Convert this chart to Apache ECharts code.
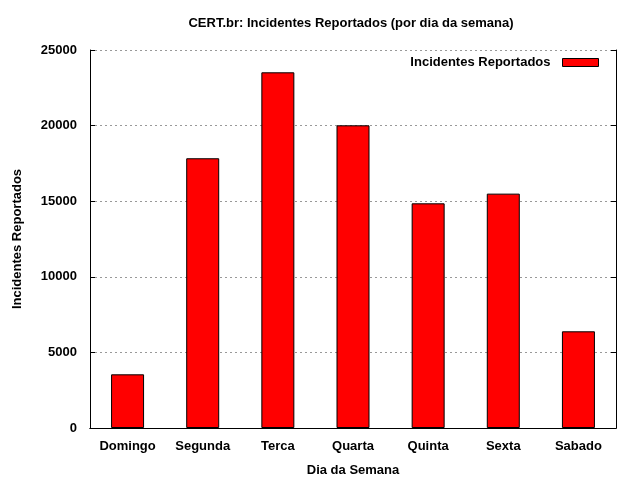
<!DOCTYPE html>
<html><head><meta charset="utf-8">
<script src="https://cdn.jsdelivr.net/npm/echarts@6/dist/echarts.min.js"></script>
<style>html,body{margin:0;padding:0;background:#fff}#c{width:640px;height:480px}</style>
</head><body><div id="c"></div>
<script>
var categories = ['Domingo','Segunda','Terca','Quarta','Quinta','Sexta','Sabado'];
var incidentes = [3550, 17840, 23525, 20020, 14860, 15500, 6395];
var yTicks = {min: 0, max: 25000, interval: 5000};
var seriesName = 'Incidentes Reportados';

var font = {fontFamily: '"Liberation Sans", Arial, sans-serif', fontWeight: 'bold', fontSize: 13, color: '#000'};
var chart = echarts.init(document.getElementById('c'), null, {renderer: 'canvas'});
chart.setOption({
  animation: false,
  backgroundColor: '#fff',
  title: {text: 'CERT.br: Incidentes Reportados (por dia da semana)', left: 351, textAlign: 'center', top: 17, padding: 0,
    textStyle: Object.assign({}, font)},
  legend: {data: [seriesName], right: 41, top: 56, padding: 0, align: 'right', itemWidth: 36, itemHeight: 8, itemGap: 10,
    icon: 'rect',
    textStyle: Object.assign({padding: [0, 7, 0, 0]}, font),
    itemStyle: {borderColor: '#000', borderWidth: 1}},
  grid: {left: 90, right: 24, top: 50, bottom: 52, containLabel: false, outerBoundsMode: 'none'},
  xAxis: [{
    type: 'category', data: categories, boundaryGap: true, position: 'bottom',
    name: 'Dia da Semana', nameLocation: 'middle', nameGap: 36, nameTextStyle: Object.assign({}, font),
    axisLine: {lineStyle: {color: '#000', width: 1}},
    axisTick: {inside: true, alignWithLabel: true, length: 5, lineStyle: {color: '#000'}},
    axisLabel: Object.assign({margin: 12}, font),
    splitLine: {show: false}
  }, {
    type: 'category', data: categories, boundaryGap: true, position: 'top',
    axisLine: {lineStyle: {color: '#000', width: 1}},
    axisTick: {inside: true, alignWithLabel: true, length: 5, lineStyle: {color: '#000'}},
    axisLabel: {show: false}, splitLine: {show: false}
  }],
  yAxis: [{
    type: 'value', min: yTicks.min, max: yTicks.max, interval: yTicks.interval, position: 'left',
    name: 'Incidentes Reportados', nameLocation: 'middle', nameGap: 66, nameTextStyle: Object.assign({}, font),
    axisLine: {show: true, lineStyle: {color: '#000', width: 1}},
    axisTick: {show: true, inside: true, length: 5, lineStyle: {color: '#000'}},
    axisLabel: Object.assign({margin: 13, formatter: function (v) { return String(v); }}, font),
    splitLine: {show: true, lineStyle: {color: '#999', type: [2, 3], width: 1}}
  }, {
    type: 'value', min: yTicks.min, max: yTicks.max, interval: yTicks.interval, position: 'right',
    axisLine: {show: true, lineStyle: {color: '#000', width: 1}},
    axisTick: {show: true, inside: true, length: 5, lineStyle: {color: '#000'}},
    axisLabel: {show: false}, splitLine: {show: false}
  }],
  series: [{
    name: seriesName, type: 'bar', data: incidentes, barWidth: 33,
    itemStyle: {color: '#ff0000', borderColor: '#000', borderWidth: 1}
  }]
});
</script></body></html>
